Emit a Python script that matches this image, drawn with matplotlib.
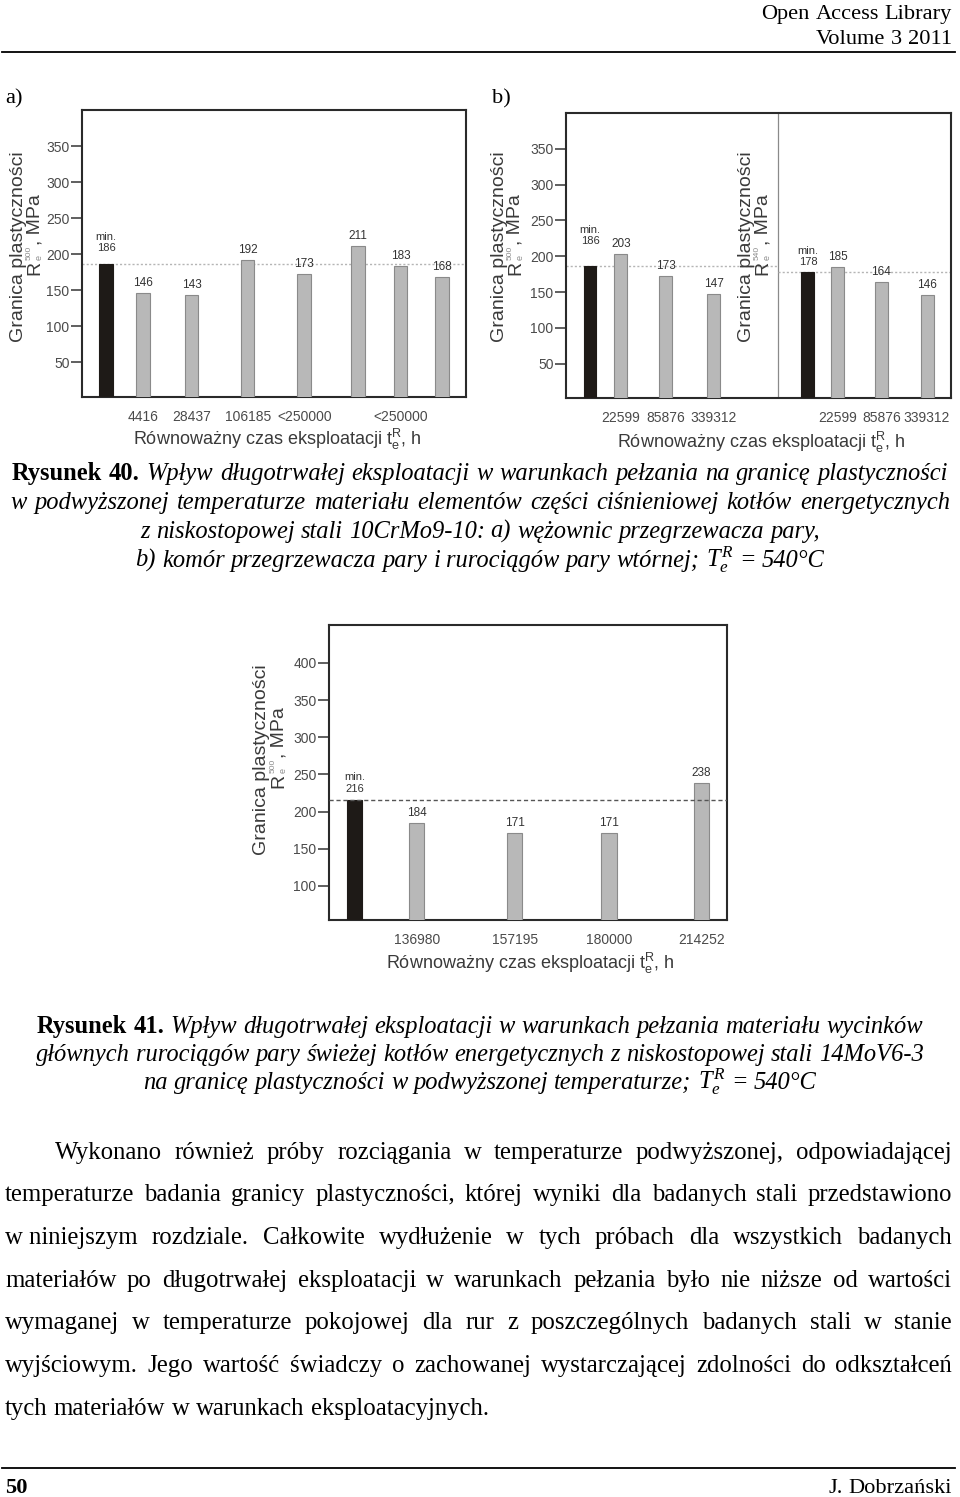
import matplotlib
matplotlib.use("Agg")
import matplotlib.pyplot as plt
from matplotlib.lines import Line2D

plt.rcParams['mathtext.fontset'] = 'custom'
plt.rcParams['mathtext.rm'] = 'Liberation Serif'
plt.rcParams['mathtext.it'] = 'Liberation Serif:italic'
plt.rcParams['mathtext.bf'] = 'Liberation Serif:bold'

# ---- chart data ----
a_values = [186, 146, 143, 192, 173, 211, 183, 168]
a_ticklabels = ["", "4416", "28437", "106185", "<250000", "", "<250000", ""]
a_min = 186

b1_values = [186, 203, 173, 147]
b1_ticklabels = ["", "22599", "85876", "339312"]
b1_min = 186
b2_values = [178, 185, 164, 146]
b2_ticklabels = ["", "22599", "85876", "339312"]
b2_min = 178

c_values = [216, 184, 171, 171, 238]
c_ticklabels = ["", "136980", "157195", "180000", "214252"]
c_min = 216

# bar slots along the x axis (layout only)
a_pos = [0, 0.77, 1.78, 2.95, 4.13, 5.25, 6.14, 7.0]
b_pos = [0, 0.69, 1.69, 2.76, 4.87, 5.53, 6.51, 7.53]
b_split = 4.2
c_pos = [0, 0.66, 1.70, 2.70, 3.68]

# ---- page text ----
cap40 = [
    [("Rysunek 40.", "b"), ("Wpływ długotrwałej eksploatacji w warunkach pełzania na granicę plastyczności", "i")],
    [("w podwyższonej temperaturze materiału elementów części ciśnieniowej kotłów energetycznych", "i")],
    [("z niskostopowej stali 10CrMo9-10: a) wężownic przegrzewacza pary,", "i")],
    [("b) komór przegrzewacza pary i rurociągów pary wtórnej;", "i"), ("$T_e^R$", "i"), ("= 540°C", "i")],
]
cap41 = [
    [("Rysunek 41.", "b"), ("Wpływ długotrwałej eksploatacji w warunkach pełzania materiału wycinków", "i")],
    [("głównych rurociągów pary świeżej kotłów energetycznych z niskostopowej stali 14MoV6-3", "i")],
    [("na granicę plastyczności w podwyższonej temperaturze;", "i"), ("$T_e^R$", "i"), ("= 540°C", "i")],
]
body = [
    "Wykonano również próby rozciągania w temperaturze podwyższonej, odpowiadającej",
    "temperaturze badania granicy plastyczności, której wyniki dla badanych stali przedstawiono",
    "w\u00a0niniejszym rozdziale. Całkowite wydłużenie w tych próbach dla wszystkich badanych",
    "materiałów po długotrwałej eksploatacji w warunkach pełzania było nie niższe od wartości",
    "wymaganej w temperaturze pokojowej dla rur z poszczególnych badanych stali w stanie",
    "wyjściowym. Jego wartość świadczy o zachowanej wystarczającej zdolności do odkształceń",
    "tych materiałów w warunkach eksploatacyjnych.",
]

W, H = 960, 1497
SERIF = 'Liberation Serif'
SANS = 'Liberation Sans'
INK = '#3a3a3a'
FAINT = '#8c8c8c'

fig = plt.figure(figsize=(W / 100, H / 100), dpi=100)
fig.patch.set_facecolor('white')
renderer = fig.canvas.get_renderer()


def fx(x):
    return x / W


def fy(y):
    return 1 - y / H


def make(s, style, size):
    kw = dict(fontsize=size, family=SERIF, va='baseline', ha='left', color='black')
    if 'b' in style:
        kw['fontweight'] = 'bold'
    if 'i' in style:
        kw['fontstyle'] = 'italic'
    return fig.text(0, 0, s, **kw)


def wid(t):
    return t.get_window_extent(renderer).width


def space_w(style, size):
    t1, t2 = make("n n", style, size), make("nn", style, size)
    w = wid(t1) - wid(t2)
    t1.remove()
    t2.remove()
    return w


def words_of(runs):
    return [(w, st) for s, st in runs for w in s.split(' ') if w]


def natural_width(runs, size):
    words = words_of(runs)
    ts = [make(w, st, size) for w, st in words]
    total = sum(wid(t) for t in ts) + space_w(words[-1][1], size) * (len(ts) - 1)
    for t in ts:
        t.remove()
    return total


def draw_line(runs, y, size, x0=None, x1=None, xc=None):
    words = words_of(runs)
    ts = [make(w, st, size) for w, st in words]
    ws = [wid(t) for t in ts]
    sp = space_w(words[-1][1], size)
    if x0 is not None and x1 is not None and len(ts) > 1:
        gap = (x1 - x0 - sum(ws)) / (len(ts) - 1)
        x = x0
    else:
        gap = sp
        total = sum(ws) + sp * (len(ts) - 1)
        x = xc - total / 2 if xc is not None else x0
    for t, w in zip(ts, ws):
        t.set_position((fx(x), fy(y)))
        x += w + gap


def hrule(y, x0, x1, lw=1.3):
    fig.add_artist(Line2D([fx(x0), fx(x1)], [fy(y), fy(y)], color='black',
                          lw=lw, transform=fig.transFigure))


# font sizes fitted to the page widths
cap_size = 10 * 889 / natural_width(cap41[0], 10)
body_size = 10 * 483 / natural_width([(body[-1], "r")], 10)
head_size = 10 * 190 / natural_width([("Open Access Library", "r")], 10)

# header / footer
draw_line([("Open Access Library", "r")], 19, head_size, x0=952 - natural_width([("Open Access Library", "r")], head_size))
draw_line([("Volume 3 2011", "r")], 44, head_size, x0=952 - natural_width([("Volume 3 2011", "r")], head_size))
hrule(52, 2, 955)
draw_line([("a)", "r")], 103, head_size, x0=5)
draw_line([("b)", "r")], 103, head_size, x0=492)
hrule(1468, 2, 955)
draw_line([("50", "b")], 1493, head_size, x0=5)
draw_line([("J. Dobrzański", "r")], 1493, head_size, x0=952 - natural_width([("J. Dobrzański", "r")], head_size))

# captions
cap40_y = [480, 509, 538, 567]
draw_line(cap40[0], cap40_y[0], cap_size, x0=12, x1=948)
draw_line(cap40[1], cap40_y[1], cap_size, x0=10, x1=950)
draw_line(cap40[2], cap40_y[2], cap_size, xc=480)
draw_line(cap40[3], cap40_y[3], cap_size, xc=480)
for runs, y in zip(cap41, [1033, 1061, 1089]):
    draw_line(runs, y, cap_size, xc=480)

# body paragraph (justified)
body_y = [1159, 1201, 1244, 1287, 1329, 1372, 1415]
for i, (line, y) in enumerate(zip(body, body_y)):
    left = 55 if i == 0 else 5
    if i < len(body) - 1:
        draw_line([(line, "r")], y, body_size, x0=left, x1=952)
    else:
        draw_line([(line, "r")], y, body_size, x0=left)


# ---- charts ----
def bar_chart(box, pos, values, ticklabels, groups, min_offs, ylim, yticks, width):
    l, r, t, b = box
    ax = fig.add_axes([fx(l), fy(b), (r - l) / W, (b - t) / H])
    starts = [g[0] for g in groups]
    colors = ['#1e1a17' if i in starts else '#b8b8b8' for i in range(len(values))]
    edges = ['#1e1a17' if i in starts else '#8a8a8a' for i in range(len(values))]
    ax.bar(pos, values, width=width, color=colors, edgecolor=edges, linewidth=0.8, zorder=3)
    for i, v in enumerate(values):
        if i in starts:
            ax.annotate(f"min.\n{v}", (pos[i], v), xytext=(0, min_offs[starts.index(i)]),
                        textcoords='offset pixels', ha='center', va='bottom', fontsize=8,
                        color='#333333', family=SANS, linespacing=1.15)
        else:
            ax.annotate(f"{v}", (pos[i], v), xytext=(0, 4), textcoords='offset pixels',
                        ha='center', va='bottom', fontsize=8.5, color='#333333', family=SANS)
    ax.set_ylim(*ylim)
    ax.set_yticks(yticks)
    ax.set_xticks(pos)
    ax.set_xticklabels(ticklabels)
    ax.tick_params(axis='y', length=8, width=1.2, color='#444444', pad=1,
                   labelsize=10, labelcolor='#4a4a4a')
    ax.tick_params(axis='x', length=0, pad=9, labelsize=10, labelcolor='#4a4a4a')
    for lab in ax.get_xticklabels() + ax.get_yticklabels():
        lab.set_family(SANS)
    for s in ax.spines.values():
        s.set_color('#2a2a2a')
        s.set_linewidth(1.5)
    return ax


def vrun(xb, yc, groups):
    # vertical text read bottom-to-top; each group is stacked pieces (text, size, dx, color)
    made, lens = [], []
    for grp in groups:
        ts = [fig.text(0, 0, s, rotation=90, rotation_mode='anchor', ha='left', va='baseline',
                       fontsize=sz, family=SANS, color=c) for s, sz, dx, c in grp]
        made.append((ts, grp))
        lens.append(max(t.get_window_extent(renderer).height for t in ts) + 1)
    y = yc + sum(lens) / 2
    for (ts, grp), L in zip(made, lens):
        for t, (s, sz, dx, c) in zip(ts, grp):
            t.set_position((fx(xb + dx), fy(y)))
        y -= L


def ylabel(xb1, xb2, yc, sup):
    vrun(xb1, yc, [[("Granica plastyczności", 14, 0, INK)]])
    vrun(xb2, yc - 12, [[("R", 14, 0, INK)],
                        [("e", 6.5, 3, FAINT), (sup, 6, -8, FAINT)],
                        [(", MPa", 14, 0, INK)]])


def xlabel(xc, yc):
    fig.text(fx(xc), fy(yc), r"Równoważny czas eksploatacji $\mathregular{t_e^R}$, h",
             ha='center', va='center', fontsize=13, family=SANS, color=INK)


# a)
ax_a = bar_chart((82, 466, 110, 397), a_pos, a_values, a_ticklabels, [range(0, 8)], [11],
                 (2, 400), [50, 100, 150, 200, 250, 300, 350], 0.28)
ax_a.axhline(a_min, color='#b5b5b5', lw=1, ls=(0, (1.5, 1.5)), zorder=2)
ylabel(23, 39, 246, "500")
xlabel(277, 439)

# b)
ax_b = bar_chart((566, 951, 113, 398), b_pos, b1_values + b2_values, b1_ticklabels + b2_ticklabels,
                 [range(0, 4), range(4, 8)], [20, 5], (2, 400), [50, 100, 150, 200, 250, 300, 350], 0.29)
ax_b.axvline(b_split, color='#8a8a8a', lw=0.9, zorder=1)
x_lo, x_hi = ax_b.get_xlim()
ax_b.hlines(b1_min, x_lo, b_split, color='#b5b5b5', lw=1, ls=(0, (1.5, 1.5)), zorder=2)
ax_b.hlines(b2_min, b_split, x_hi, color='#b5b5b5', lw=1, ls=(0, (1.5, 1.5)), zorder=2)
ax_b.set_xlim(x_lo, x_hi)
ylabel(504, 520, 246, "500")
ylabel(751, 767, 246, "540")
xlabel(761, 442)

# Rysunek 41
ax_c = bar_chart((329, 727, 625, 920), c_pos, c_values, c_ticklabels, [range(0, 5)], [6],
                 (54, 451), [100, 150, 200, 250, 300, 350, 400], 0.16)
ax_c.axhline(c_min, color='#555555', lw=1, ls=(0, (3, 2)), zorder=4)
ylabel(266, 283, 759, "500")
xlabel(530, 963)

fig.savefig("out.png", dpi=100, facecolor='white')
